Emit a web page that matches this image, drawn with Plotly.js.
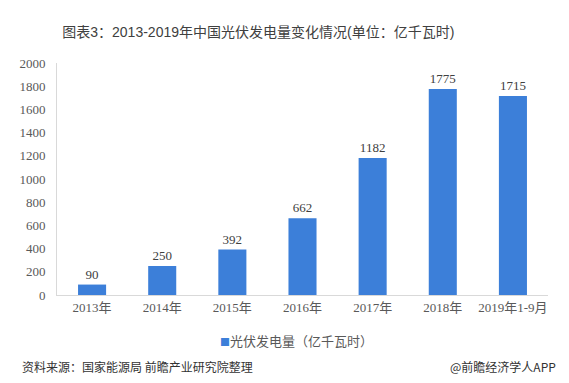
<!DOCTYPE html>
<html>
<head>
<meta charset="utf-8">
<script src="https://cdn.plot.ly/plotly-3.0.1.min.js"></script>
<style>
html,body{margin:0;padding:0;background:#fff;}
#chart{width:569px;height:383px;}
</style>
</head>
<body>
<div id="chart"></div>
<script>
const categories = ["2013年","2014年","2015年","2016年","2017年","2018年","2019年1-9月"];
const values = [90, 250, 392, 662, 1182, 1775, 1715];
const seriesName = "光伏发电量（亿千瓦时）";
const titleText = "图表3：2013-2019年中国光伏发电量变化情况(单位：亿千瓦时)";
const sourceText = "资料来源：国家能源局 前瞻产业研究院整理";
const brandText = "@前瞻经济学人APP";
const yTicks = [0,200,400,600,800,1000,1200,1400,1600,1800,2000];
const barColor = "#3c7fd9";

const serif = "'Liberation Serif', 'Times New Roman', 'Noto Sans CJK SC', serif";
const sans = "'Liberation Sans', Arial, 'Noto Sans CJK SC', sans-serif";
const cjk = "'Noto Sans CJK SC', sans-serif";

const trace = {
  type: "bar",
  x: categories,
  y: values,
  name: seriesName,
  marker: {color: barColor},
  width: 0.4,
  text: values.map(String),
  textposition: "outside",
  cliponaxis: false,
  textfont: {family: serif, size: 13, color: "#404040"},
  hoverinfo: "skip",
  showlegend: false
};

const layout = {
  width: 569, height: 383,
  margin: {l: 57, r: 21, t: 63, b: 88},
  paper_bgcolor: "#ffffff",
  plot_bgcolor: "#ffffff",
  title: {text: titleText, xref: "paper", x: 0.41, xanchor: "center", y: 0.915, yanchor: "middle",
          font: {family: sans, size: 14, color: "#404040"}},
  bargap: 0.6,
  xaxis: {
    type: "category",
    showline: true, linecolor: "#d9d9d9", linewidth: 1,
    ticks: "", showgrid: false, zeroline: false,
    tickfont: {family: serif, size: 13, color: "#595959"},
    fixedrange: true
  },
  yaxis: {
    range: [0, 2000],
    tickvals: yTicks,
    ticktext: yTicks.map(String),
    showline: true, linecolor: "#d9d9d9", linewidth: 1,
    ticks: "", showgrid: false, zeroline: false,
    tickfont: {family: serif, size: 13, color: "#595959"},
    ticklabelstandoff: 8,
    fixedrange: true
  },
  showlegend: false,
  annotations: [
    {text: '<span style="color:' + barColor + ';font-size:10px">■</span>' + seriesName,
     xref: "paper", yref: "paper", x: 0.328, xanchor: "left",
     y: -0.198, yanchor: "middle", showarrow: false,
     font: {family: cjk, size: 13, color: "#595959"}},
    {text: sourceText, xref: "paper", yref: "paper", x: -0.075, xanchor: "left",
     y: -0.31, yanchor: "middle", showarrow: false,
     font: {family: cjk, size: 12, color: "#333333"}},
    {text: brandText, xref: "paper", yref: "paper", x: 1.02, xanchor: "right",
     y: -0.31, yanchor: "middle", showarrow: false,
     font: {family: cjk, size: 12, color: "#333333"}}
  ]
};

Plotly.newPlot("chart", [trace], layout, {displayModeBar: false, staticPlot: true});
</script>
</body>
</html>
